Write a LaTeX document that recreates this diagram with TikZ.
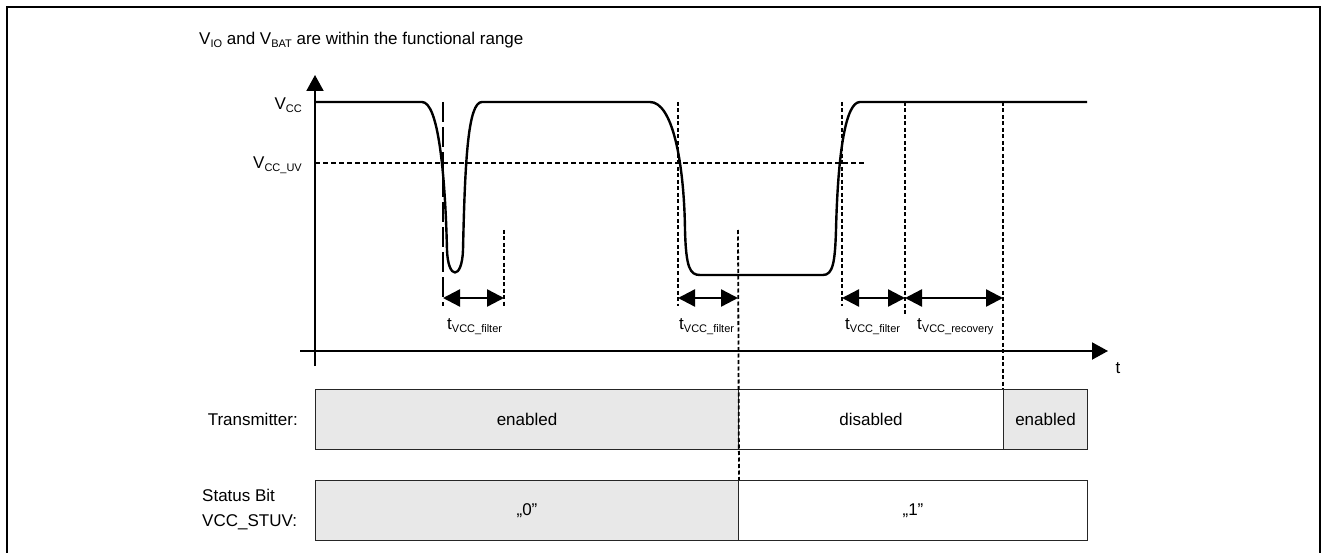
\documentclass[tikz,border=0pt]{standalone}
\usepackage{fontspec}
\setmainfont{Liberation Sans}
\usepackage{tikz}
\usetikzlibrary{arrows.meta,positioning}

\newcommand{\lowsub}[1]{\raisebox{-3pt}{\fontsize{11}{11}\selectfont #1}}

\begin{document}
\begin{tikzpicture}
[
x=1pt, y=-1pt,
wave/.style={line width=2.4pt, line join=round},
axis/.style={line width=2pt, -{Triangle[length=16pt,width=17pt]}},
mark_line/.style={line width=1.8pt, dash pattern=on 4pt off 2.5pt},
long_mark/.style={line width=1.8pt, dash pattern=on 20pt off 5pt},
uv_line/.style={line width=1.8pt, dash pattern=on 5pt off 3pt},
span/.style={line width=2.4pt, {Triangle[length=17pt,width=17pt]}-{Triangle[length=17pt,width=17pt]}},
cell_on/.style={draw=black!85, line width=1pt, fill=black!9, minimum height=60pt, anchor=north west, inner sep=0pt, font=\fontsize{17}{20}\selectfont},
cell_off/.style={cell_on, fill=white},
lbl/.style={font=\fontsize{17}{20}\selectfont, inner sep=0pt},
tlbl/.style={lbl, anchor=base west}
]
\useasboundingbox (0,0) rectangle (1332,553);
\draw[line width=1.5pt] (7,570) rectangle (1320,7);

%Nodes
\node[lbl, anchor=west]  (title)  at (199,40)  {V\lowsub{IO} and V\lowsub{BAT} are within the functional range};
\node[lbl, anchor=east]  (vcc)    at (302,105) {V\lowsub{CC}};
\node[lbl, anchor=east]  (vccuv)  at (302,165) {V\lowsub{CC\_UV}};
\node[lbl]               (t)      at (1118,368) {t};

\coordinate (orig)  at (315,351);
\coordinate (ytop)  at (315,75);
\coordinate (ybot)  at (315,366);
\coordinate (xleft) at (300,351);
\coordinate (xtip)  at (1108,351);

\node[cell_on,  minimum width=423pt] (tx_on)   at (315,389)  {enabled};
\node[cell_off, minimum width=265pt] (tx_off)  at (738,389)  {disabled};
\node[cell_on,  minimum width=84pt]  (tx_back) at (1003,389) {enabled};
\node[cell_on,  minimum width=423pt] (st_zero) at (315,480)  {„0\symbol{34}};
\node[cell_off, minimum width=349pt] (st_one)  at (738,480)  {„1\symbol{34}};
\node[lbl, left=17pt of tx_on.west]  (tx_lbl) {Transmitter:};
\node[lbl, align=left, anchor=west]  (st_lbl) at (202,510) {Status Bit\\[5pt]VCC\_STUV:};

\node[tlbl] (f1) at (447,329) {t\lowsub{VCC\_filter}};
\node[tlbl] (f2) at (679,329) {t\lowsub{VCC\_filter}};
\node[tlbl] (f3) at (845,329) {t\lowsub{VCC\_filter}};
\node[tlbl] (rc) at (917,329) {t\lowsub{VCC\_recovery}};

%Lines
\draw[axis] (ybot) -- (ytop);
\draw[axis] (xleft) -- (xtip);
\draw[uv_line] (315,163) -- (865,163);

\draw[wave] (315,102) -- (422,102)
  .. controls (438,102) and (445,170) .. (447,250)
  .. controls (448,280) and (462,280) .. (463,250)
  .. controls (465,160) and (468,102) .. (482,102)
  -- (650,102)
  .. controls (672,102) and (684,160) .. (685,230)
  .. controls (686,268) and (690,275) .. (700,275)
  -- (823,275)
  .. controls (833,275) and (835,262) .. (836,230)
  .. controls (838,150) and (846,102) .. (860,102)
  -- (1087,102);

\draw[long_mark] (443,102) -- (443,306);
\draw[mark_line] (504,230) -- (504,306);
\draw[mark_line] (678,102) -- (678,306);
\draw[mark_line] (738,230) -- (st_zero.north east);
\draw[mark_line] (842,102) -- (842,306);
\draw[mark_line] (905,102) -- (905,314);
\draw[mark_line] (1003,102) -- (tx_back.north west);

\coordinate (a1) at (443,298);
\coordinate (a2) at (504,298);
\coordinate (a3) at (678,298);
\coordinate (a4) at (738,298);
\coordinate (a5) at (842,298);
\coordinate (a6) at (905,298);
\coordinate (a7) at (1003,298);
\draw[span] (a1) -- (a2);
\draw[span] (a3) -- (a4);
\draw[span] (a5) -- (a6);
\draw[span] (a6) -- (a7);
\end{tikzpicture}
\end{document}
